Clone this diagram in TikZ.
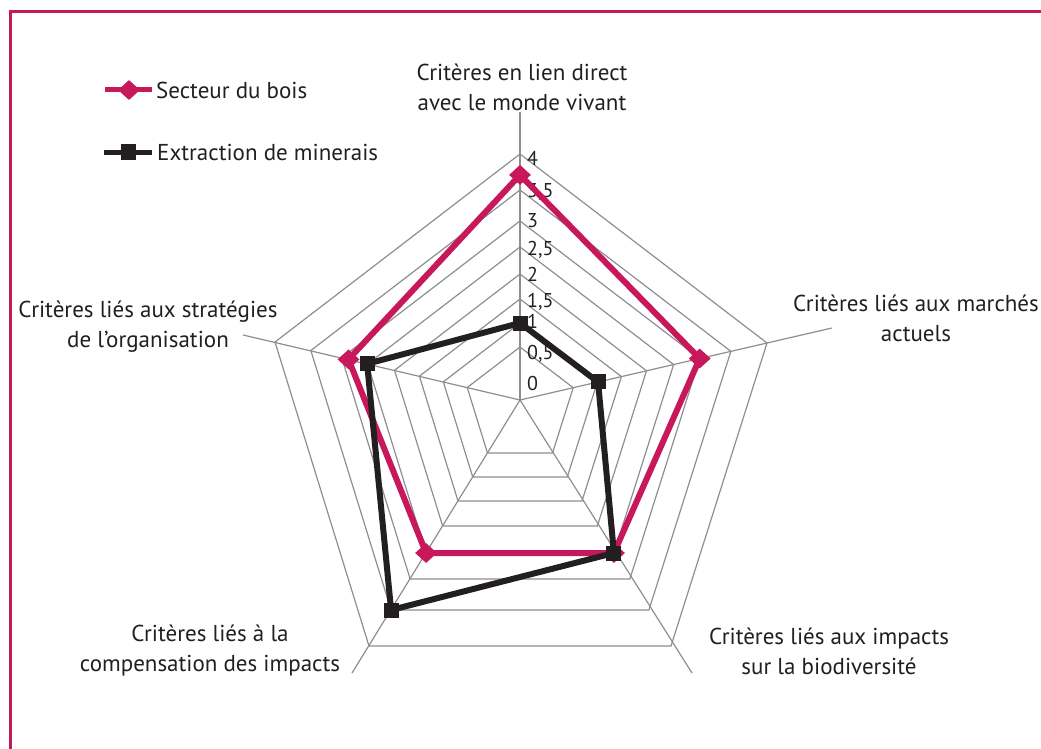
\documentclass[tikz,border=0pt]{standalone}
\usepackage{fontspec}
\setmainfont{PT Sans}
\usetikzlibrary{calc,shapes.geometric}
\definecolor{wood}{HTML}{C8185C}
\definecolor{ink}{HTML}{231F20}
\definecolor{gridgray}{HTML}{8E8E8E}
\tikzset{
  gridline/.style={draw=gridgray, line width=1.2pt},
  woodline/.style={draw=wood, line width=6pt, line join=miter},
  mineline/.style={draw=ink, line width=6pt, line join=miter},
  woodmark/.style={diamond, fill=wood, inner sep=0pt, minimum width=22pt, minimum height=20pt},
  minemark/.style={rectangle, fill=ink, inner sep=0pt, minimum size=15pt},
  axislabel/.style={align=center, text=ink, font=\fontsize{23}{30}\selectfont, inner sep=0pt},
  legendtext/.style={anchor=west, text=ink, font=\fontsize{23}{26}\selectfont, inner sep=0pt},
  ticklabel/.style={anchor=base west, text=ink, font=\fontsize{20}{22}\selectfont, inner sep=0pt}
}
\begin{document}
\begin{tikzpicture}[x=1pt,y=-1pt]
\useasboundingbox (0,0) rectangle (1041,749);
% frame
\draw[draw=wood, line width=3pt] (10,752) -- (10,12) -- (1044,12);
% centre and full-scale vertices
\coordinate (O) at (520,400);
\coordinate (A0) at (520,154);
\coordinate (A1) at (767,343);
\coordinate (A2) at (671,646);
\coordinate (A3) at (369,646);
\coordinate (A4) at (275,342);
% axis ends
\coordinate (E0) at (520,112);
\coordinate (E1) at (832,328);
\coordinate (E2) at (692,673);
\coordinate (E3) at (352,673);
\coordinate (E4) at (243,335);
% rings
\foreach \f in {0.2154,0.3130,0.4106,0.5122,0.6220,0.7276,0.8537,1}{
  \draw[gridline] ($(O)!\f!(A0)$) -- ($(O)!\f!(A1)$) -- ($(O)!\f!(A2)$) -- ($(O)!\f!(A3)$) -- ($(O)!\f!(A4)$) -- cycle;
}
% spokes
\foreach \i in {0,...,4}{ \draw[gridline] (O) -- (E\i); }
% tick labels
\node[ticklabel] (t40) at (527,165) {4};
\node[ticklabel] (t35) at (527,197) {3,5};
\node[ticklabel] (t30) at (527,227) {3};
\node[ticklabel] (t25) at (527,255) {2,5};
\node[ticklabel] (t20) at (527,281) {2};
\node[ticklabel] (t15) at (527,307) {1,5};
\node[ticklabel] (t10) at (527,328) {1};
\node[ticklabel] (t05) at (527,359) {0,5};
\node[ticklabel] (t00) at (527,390) {0};
% data: Secteur du bois
\coordinate (p0) at ($(O)!0.915!(A0)$);
\coordinate (p1) at ($(O)!0.7276!(A1)$);
\coordinate (p2) at ($(O)!0.622!(A2)$);
\coordinate (p3) at ($(O)!0.622!(A3)$);
\coordinate (p4) at ($(O)!0.70!(A4)$);
\draw[woodline] (p0) -- (p1) -- (p2) -- (p3) -- (p4) -- cycle;
% data: Extraction de minerais
\coordinate (q0) at ($(O)!0.313!(A0)$);
\coordinate (q1) at ($(O)!0.316!(A1)$);
\coordinate (q2) at ($(O)!0.622!(A2)$);
\coordinate (q3) at ($(O)!0.8537!(A3)$);
\coordinate (q4) at ($(O)!0.624!(A4)$);
\foreach \i in {0,...,4}{ \node[woodmark] (pm\i) at (p\i) {}; }
\draw[mineline] (q0) -- (q1) -- (q2) -- (q3) -- (q4) -- cycle;
\foreach \i in {0,...,4}{ \node[minemark] (qm\i) at (q\i) {}; }
% axis labels
\node[axislabel] (L0) at (522,87) {Critères en lien direct\\avec le monde vivant};
\node[axislabel] (L1) at (916,318) {Critères liés aux marchés\\actuels};
\node[axislabel] (L2) at (829,651) {Critères liés aux impacts\\sur la biodiversité};
\node[axislabel] (L3) at (210,651) {Critères liés à la\\compensation des impacts};
\node[axislabel] (L4) at (148,327) {Critères liés aux stratégies\\de l'organisation};
% legend
\coordinate (la) at (105,90);
\coordinate (lb) at (152,90);
\draw[draw=wood, line width=5pt] (la) -- (lb);
\node[woodmark] (lm1) at (129,90) {};
\node[legendtext] (lt1) at (156,90) {Secteur du bois};
\coordinate (lc) at (104,152);
\coordinate (ld) at (152,152);
\draw[draw=ink, line width=5pt] (lc) -- (ld);
\node[minemark] (lm2) at (128,152) {};
\node[legendtext] (lt2) at (157,152) {Extraction de minerais};
\end{tikzpicture}
\end{document}
